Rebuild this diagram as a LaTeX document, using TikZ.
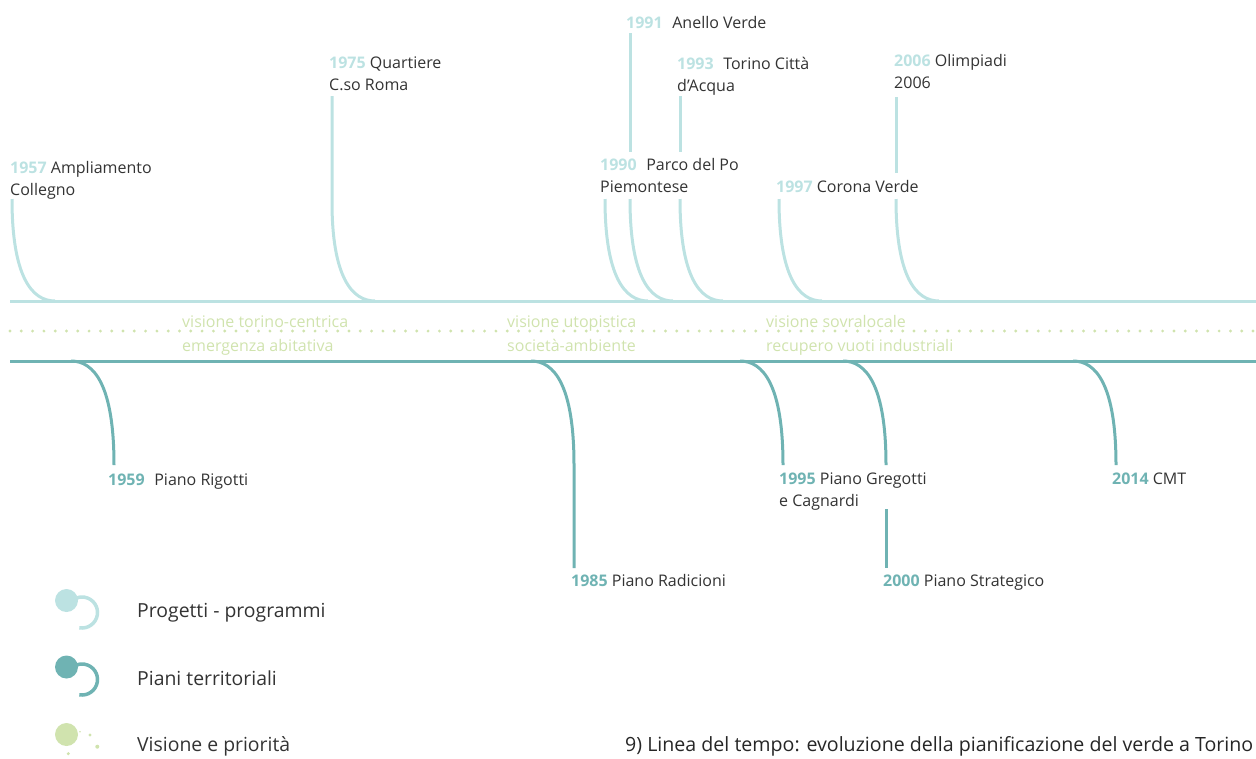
\documentclass[tikz,border=0pt]{standalone}
\usepackage{fontspec}
\setmainfont{Open Sans}

\definecolor{progetti}{HTML}{BCE2E2}
\definecolor{piani}{HTML}{6FB3B3}
\definecolor{visione}{HTML}{D0E3AE}
\definecolor{testo}{HTML}{333333}

\newcommand{\annoP}[1]{\textbf{\color{progetti}#1}}
\newcommand{\annoT}[1]{\textbf{\color{piani}#1}}

\begin{document}
\begin{tikzpicture}[x=1pt, y=-1pt,
    lbl/.style={anchor=base west, inner sep=0pt, align=left, text=testo, font=\fontsize{16}{22}\selectfont},
    vis/.style={anchor=base west, inner sep=0pt, align=left, text=visione, font=\fontsize{16}{24}\selectfont},
    leg/.style={anchor=base west, inner sep=0pt, text=testo, font=\fontsize{19.4}{22}\selectfont},
    prog/.style={progetti, line width=3pt},
    pian/.style={piani, line width=3pt}]
    \useasboundingbox (0,0) rectangle (1256,758);

    % assi
    \draw[prog] (10,301) -- (1256,301);
    \draw[visione, line width=3.2pt, line cap=round, dash pattern=on 0pt off 11.3pt] (10,331) -- (1256,331);
    \draw[pian] (10,361) -- (1256,361);

    % progetti - programmi (base = ultima riga)
    \node[lbl] (t57) at (10,195) {\annoP{1957} Ampliamento\\Collegno};
    \node[lbl] (t75) at (329,90) {\annoP{1975} Quartiere\\C.so Roma};
    \node[lbl] (t91) at (626,28) {\annoP{1991}\hspace{0.6em}Anello Verde};
    \node[lbl] (t93) at (677,91) {\annoP{1993}\hspace{0.6em}Torino Città\\d’Acqua};
    \node[lbl] (t90) at (600,192) {\annoP{1990}\hspace{0.6em}Parco del Po\\Piemontese};
    \node[lbl] (t97) at (776,192) {\annoP{1997} Corona Verde};
    \node[lbl] (t06) at (894,88) {\annoP{2006} Olimpiadi\\2006};

    \coordinate (s57) at (12,199);  \coordinate (e57) at (55,301);
    \coordinate (s75) at (332,96);  \coordinate (k75) at (332,202); \coordinate (e75) at (375,301);
    \coordinate (s90) at (605,199); \coordinate (e90) at (648,301);
    \coordinate (s91) at (630,33);  \coordinate (m91) at (630,152);
    \coordinate (k91) at (630,199); \coordinate (e91) at (673,301);
    \coordinate (s93) at (680,96);  \coordinate (m93) at (680,152);
    \coordinate (k93) at (680,199); \coordinate (e93) at (723,301);
    \coordinate (s97) at (779,199); \coordinate (e97) at (822,301);
    \coordinate (s06) at (896,97);  \coordinate (m06) at (896,173);
    \coordinate (k06) at (896,199); \coordinate (e06) at (939,301);

    \draw[prog] (s57) .. controls +(0,78) and +(-23,0) .. (e57);
    \draw[prog] (s75) -- (k75) .. controls +(0,75) and +(-23,0) .. (e75);
    \draw[prog] (s90) .. controls +(0,78) and +(-23,0) .. (e90);
    \draw[prog] (s91) -- (m91);
    \draw[prog] (k91) .. controls +(0,78) and +(-23,0) .. (e91);
    \draw[prog] (s93) -- (m93);
    \draw[prog] (k93) .. controls +(0,78) and +(-23,0) .. (e93);
    \draw[prog] (s97) .. controls +(0,78) and +(-23,0) .. (e97);
    \draw[prog] (s06) -- (m06);
    \draw[prog] (k06) .. controls +(0,78) and +(-23,0) .. (e06);

    % visione e priorita
    \node[vis] (v1) at (182,351) {visione torino-centrica\\emergenza abitativa};
    \node[vis] (v2) at (507,351) {visione utopistica\\società-ambiente};
    \node[vis] (v3) at (766,351) {visione sovralocale\\recupero vuoti industriali};

    % piani territoriali
    \node[lbl] (t59) at (108,485) {\annoT{1959}\hspace{0.6em}Piano Rigotti};
    \node[lbl] (t85) at (571,586) {\annoT{1985} Piano Radicioni};
    \node[lbl] (t95) at (779,506) {\annoT{1995} Piano Gregotti\\e Cagnardi};
    \node[lbl] (t00) at (883,586) {\annoT{2000} Piano Strategico};
    \node[lbl] (t14) at (1112,484) {\annoT{2014} CMT};

    \coordinate (a59) at (71,361);   \coordinate (z59) at (114,465);
    \coordinate (a85) at (531,361);  \coordinate (k85) at (574,465); \coordinate (z85) at (574,568);
    \coordinate (a95) at (740,361);  \coordinate (z95) at (783,465);
    \coordinate (a00) at (843,361);  \coordinate (z00) at (886,465);
    \coordinate (m00) at (886,509);  \coordinate (n00) at (886,568);
    \coordinate (a14) at (1073,361); \coordinate (z14) at (1116,465);

    \draw[pian] (a59) .. controls +(23,0) and +(0,-80) .. (z59);
    \draw[pian] (a85) .. controls +(23,0) and +(0,-80) .. (k85) -- (z85);
    \draw[pian] (a95) .. controls +(23,0) and +(0,-80) .. (z95);
    \draw[pian] (a00) .. controls +(23,0) and +(0,-80) .. (z00);
    \draw[pian] (m00) -- (n00);
    \draw[pian] (a14) .. controls +(23,0) and +(0,-80) .. (z14);

    % legenda
    \draw[progetti, line width=3.5pt] (82,612.5) ++(100:15.5) arc[start angle=100, end angle=-163, radius=15.5];
    \fill[progetti] (66.5,600.5) circle (11.5);
    \draw[piani, line width=3.5pt] (82,679.5) ++(100:15.5) arc[start angle=100, end angle=-163, radius=15.5];
    \fill[piani] (66.5,667) circle (11.5);
    \fill[visione] (66.5,734.5) circle (11.5);
    \fill[visione] (80,731.7) circle (0.8);
    \fill[visione] (90,735) circle (1.7);
    \fill[visione] (97.3,746.7) circle (2);
    \fill[visione] (68.3,753.7) circle (1.7);

    \node[leg] (l1) at (137,617) {Progetti - programmi};
    \node[leg] (l2) at (137,685) {Piani territoriali};
    \node[leg] (l3) at (137,751) {Visione e priorità};

    \node[leg, text=black!85, font=\fontsize{19.6}{22}\selectfont] (cap) at (625,751) {9) Linea del tempo: evoluzione della pianificazione del verde a Torino};
\end{tikzpicture}
\end{document}
